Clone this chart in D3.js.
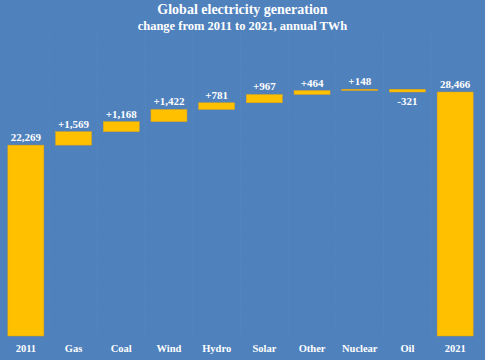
<!DOCTYPE html>
<html>
<head>
<meta charset="utf-8">
<script src="https://cdn.jsdelivr.net/npm/d3@7"></script>
<style>
  html, body { margin: 0; padding: 0; background: #4f81bd; }
  svg { display: block; }
</style>
</head>
<body>
<script>
// categories and values (TWh)
const categories = ["2011", "Gas", "Coal", "Wind", "Hydro", "Solar", "Other", "Nuclear", "Oil", "2021"];
const changes = [22269, 1569, 1168, 1422, 781, 967, 464, 148, -321, 28466];
const labels = ["22,269", "+1,569", "+1,168", "+1,422", "+781", "+967", "+464", "+148", "-321", "28,466"];

const width = 485;
const height = 360;
const margin = { top: 36, right: 6, bottom: 24, left: 2 };

// build waterfall steps
let running = 0;
const steps = categories.map((c, i) => {
    let start, end;
    if (i === 0 || i === categories.length - 1) {
        start = 0;
        end = changes[i];
        running = changes[i];
    } else {
        start = running;
        end = running + changes[i];
        running = end;
    }
    return { cat: c, start, end, label: labels[i], neg: changes[i] < 0 };
});

const svg = d3.select("body").append("svg")
    .attr("width", width)
    .attr("height", height);

svg.append("rect").attr("width", width).attr("height", height).attr("fill", "#4f81bd");

const x = d3.scaleBand()
    .domain(categories)
    .range([margin.left, width - margin.right])
    .paddingInner(0.245)
    .paddingOuter(0.1225);

const y = d3.scaleLinear()
    .domain([0, 35000])
    .range([height - margin.bottom, margin.top]);

// faint dotted separators between categories
const step = x.step();
const x0 = x(categories[0]) - (step - x.bandwidth()) / 2;
svg.append("g")
    .selectAll("line")
    .data(d3.range(1, categories.length))
    .join("line")
    .attr("x1", i => x0 + i * step)
    .attr("x2", i => x0 + i * step)
    .attr("y1", margin.top - 3)
    .attr("y2", height - margin.bottom)
    .attr("stroke", "#5b8bc4")
    .attr("stroke-width", 1)
    .attr("stroke-dasharray", "1 2");

// bars
svg.append("g")
    .selectAll("rect")
    .data(steps)
    .join("rect")
    .attr("x", d => x(d.cat))
    .attr("width", x.bandwidth())
    .attr("y", d => y(Math.max(d.start, d.end)))
    .attr("height", d => Math.max(1, Math.abs(y(d.start) - y(d.end))))
    .attr("fill", "#ffc000")
    .attr("stroke", "#d9a21a")
    .attr("stroke-width", 0.5);

// value labels
svg.append("g")
    .selectAll("text")
    .data(steps)
    .join("text")
    .attr("x", d => x(d.cat) + x.bandwidth() / 2)
    .attr("y", d => d.neg ? y(Math.min(d.start, d.end)) + 13 : y(Math.max(d.start, d.end)) - 4)
    .attr("text-anchor", "middle")
    .attr("fill", "#ffffff")
    .attr("font-family", "Liberation Serif, serif")
    .attr("font-weight", "bold")
    .attr("font-size", 11)
    .text(d => d.label);

// category labels
svg.append("g")
    .selectAll("text")
    .data(categories)
    .join("text")
    .attr("x", d => x(d) + x.bandwidth() / 2)
    .attr("y", height - margin.bottom + 16)
    .attr("text-anchor", "middle")
    .attr("fill", "#ffffff")
    .attr("font-family", "Liberation Serif, serif")
    .attr("font-weight", "bold")
    .attr("font-size", 10.5)
    .text(d => d);

// titles
svg.append("text")
    .attr("x", width / 2)
    .attr("y", 14)
    .attr("text-anchor", "middle")
    .attr("fill", "#ffffff")
    .attr("font-family", "Liberation Serif, serif")
    .attr("font-weight", "bold")
    .attr("font-size", 14)
    .text("Global electricity generation");

svg.append("text")
    .attr("x", width / 2)
    .attr("y", 30)
    .attr("text-anchor", "middle")
    .attr("fill", "#ffffff")
    .attr("font-family", "Liberation Serif, serif")
    .attr("font-weight", "bold")
    .attr("font-size", 12.5)
    .text("change from 2011 to 2021, annual TWh");
</script>
</body>
</html>
